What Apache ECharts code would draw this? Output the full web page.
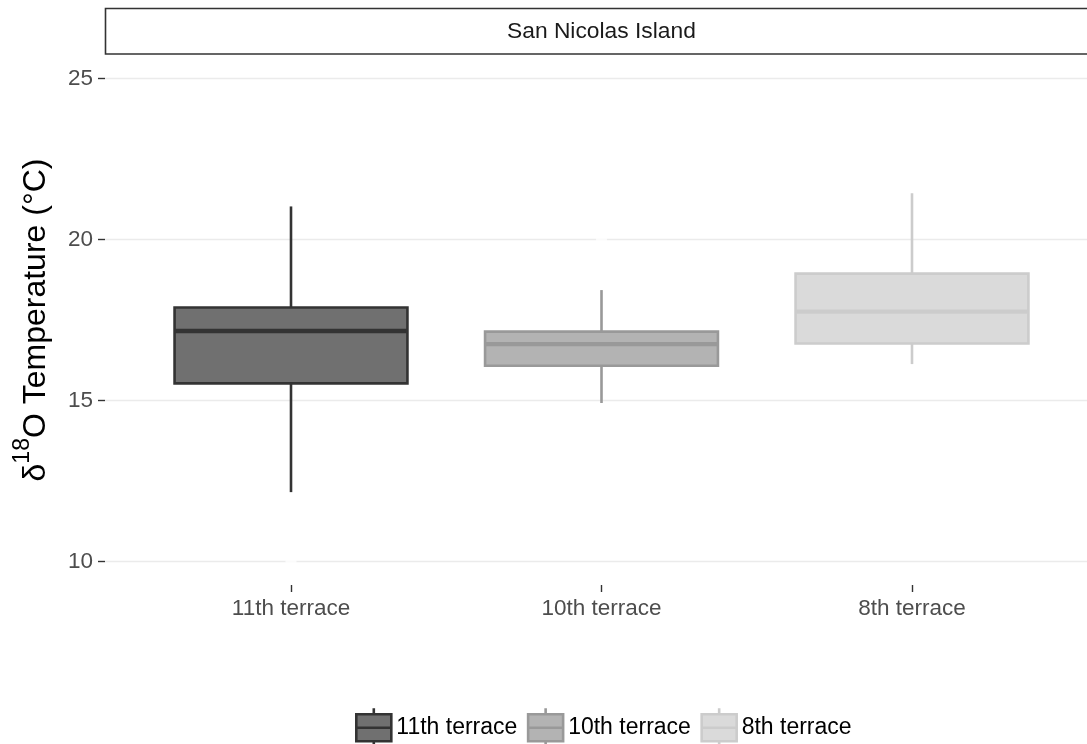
<!DOCTYPE html>
<html>
<head>
<meta charset="utf-8">
<script src="https://cdn.jsdelivr.net/npm/echarts@6/dist/echarts.min.js"></script>
<style>
  html, body { margin: 0; padding: 0; background: #fff; }
  #chart { width: 1087px; height: 744px; }
</style>
</head>
<body>
<div id="chart"></div>
<script>
// terraces, left to right
var categories = ['11th terrace', '10th terrace', '8th terrace'];
// box statistics (°C)
var whiskerLow = [12.15, 14.92, 16.13];
var q1 = [15.53, 16.08, 16.77];
var median = [17.16, 16.75, 17.76];
var q3 = [17.89, 17.14, 18.94];
var whiskerHigh = [21.03, 18.43, 21.44];
// outliers [category index, value]
var outliers = [[0, 10.0], [1, 20.0]];
// y axis ticks
var yTicks = [10, 15, 20, 25];

var fills = ['#707070', '#b3b3b3', '#dadada'];
var lines = ['#333333', '#999999', '#cccccc'];
var font = "'Liberation Sans', Arial, Helvetica, sans-serif";

var myChart = echarts.init(document.getElementById('chart'));

function boxRenderer(i) {
	return function(params, api) {
		var x = api.value(0);
		var lo = api.coord([x, api.value(1)]);
		var b1 = api.coord([x, api.value(2)]);
		var md = api.coord([x, api.value(3)]);
		var b3 = api.coord([x, api.value(4)]);
		var hi = api.coord([x, api.value(5)]);
		var half = api.size([1, 0])[0] * 0.75 / 2;
		var cx = lo[0];
		var line = { stroke: lines[i], lineWidth: 2.6 };
		return {
			type: 'group',
			children: [
				{ type: 'line', shape: { x1: cx, y1: b3[1], x2: cx, y2: hi[1] }, style: line },
				{ type: 'line', shape: { x1: cx, y1: b1[1], x2: cx, y2: lo[1] }, style: line },
				{ type: 'rect', shape: { x: cx - half, y: b3[1], width: half * 2, height: b1[1] - b3[1] },
					style: { fill: fills[i], stroke: lines[i], lineWidth: 2.6 } },
				{ type: 'line', shape: { x1: cx - half, y1: md[1], x2: cx + half, y2: md[1] },
					style: { stroke: lines[i], lineWidth: 4.4 } }
			]
		};
	};
}

var series = [];
var legendData = [];
for (var i = 0; i < categories.length; i++) {
	series.push({
		name: categories[i],
		type: 'custom',
		xAxisIndex: 1,
		yAxisIndex: 1,
		itemStyle: { color: fills[i], borderColor: lines[i] },
		encode: { x: 0, y: [1, 2, 3, 4, 5] },
		renderItem: boxRenderer(i),
		data: [[i, whiskerLow[i], q1[i], median[i], q3[i], whiskerHigh[i]]]
	});
	legendData.push({
		name: categories[i],
		itemStyle: { color: fills[i], borderColor: lines[i], borderWidth: 2.6 }
	});
}
series.push({
	name: 'outliers',
	type: 'scatter',
	xAxisIndex: 1,
	yAxisIndex: 1,
	symbolSize: 11,
	itemStyle: { color: '#ffffff' },
	z: 3,
	data: outliers
});

var option = {
	animation: false,
	grid: [
		{ left: 105, top: 78.7, width: 993, height: 482.6 },
		{ left: 135.75, top: 78.7, width: 931.5, height: 482.6 }
	],
	xAxis: [
		{ gridIndex: 0, type: 'value', min: 0, max: 1, show: false },
		{
			gridIndex: 1,
			type: 'category',
			data: categories,
			offset: 23.7,
			axisLine: { show: true, lineStyle: { color: 'rgba(0,0,0,0)' } },
			axisTick: { show: true, alignWithLabel: true, interval: 0, length: 7, lineStyle: { color: '#333333', width: 1.4 } },
			axisLabel: { margin: 12.5, color: '#4d4d4d', fontSize: 22.5, fontFamily: font },
			splitLine: { show: false }
		}
	],
	yAxis: [
		{
			gridIndex: 0,
			type: 'value',
			min: yTicks[0],
			max: yTicks[yTicks.length - 1],
			interval: yTicks[1] - yTicks[0],
			axisLine: { show: false },
			axisTick: { show: true, length: 7, lineStyle: { color: '#333333', width: 1.4 } },
			axisLabel: { margin: 12, color: '#4d4d4d', fontSize: 22.5, fontFamily: font },
			splitLine: { lineStyle: { color: '#ebebeb', width: 1.4 } },
			name: '{n|δ}{s|18}{n|O Temperature (°C)}',
			nameLocation: 'middle',
			nameGap: 44.2,
			nameTextStyle: {
				rich: {
					n: { fontSize: 32, lineHeight: 50, color: '#000', fontFamily: font },
					s: { fontSize: 23, lineHeight: 23, verticalAlign: 'top', color: '#000', fontFamily: font }
				}
			}
		},
		{
			gridIndex: 1,
			type: 'value',
			min: yTicks[0],
			max: yTicks[yTicks.length - 1],
			show: false,
			splitLine: { show: false }
		}
	],
	legend: {
		data: legendData,
		left: 355,
		top: 707,
		padding: 0,
		itemWidth: 35,
		itemHeight: 39,
		itemGap: 9.5,
		icon: 'path://M0,6L35,6L35,33L0,33ZM17.5,0L17.5,6M17.5,33L17.5,39M0,19.5L35,19.5',
		textStyle: { color: '#000', fontSize: 23, fontFamily: font }
	},
	graphic: [
		{
			type: 'rect',
			shape: { x: 105.5, y: 8.5, width: 1010, height: 45.5 },
			style: { fill: '#ffffff', stroke: '#333333', lineWidth: 1.6 }
		},
		{
			type: 'text',
			x: 601.4,
			y: 31.5,
			style: {
				text: 'San Nicolas Island',
				fill: '#1a1a1a',
				fontSize: 22.8,
				fontFamily: font,
				align: 'center',
				verticalAlign: 'middle'
			}
		}
	],
	series: series
};
myChart.setOption(option);
</script>
</body>
</html>
